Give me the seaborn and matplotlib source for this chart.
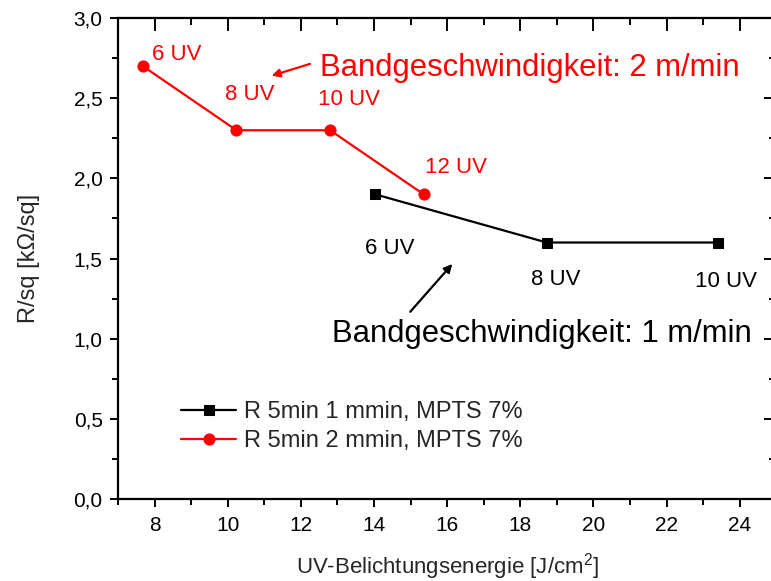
import matplotlib
matplotlib.use("Agg")
import matplotlib.pyplot as plt
from matplotlib.ticker import MultipleLocator, FuncFormatter
import seaborn as sns
import pandas as pd

# Measured sheet resistance vs. UV exposure energy
energy_1mmin = [14.04, 18.72, 23.4]
rsq_1mmin = [1.9, 1.6, 1.6]
uv_1mmin = ["6 UV", "8 UV", "10 UV"]

energy_2mmin = [7.68, 10.24, 12.8, 15.36]
rsq_2mmin = [2.7, 2.3, 2.3, 1.9]
uv_2mmin = ["6 UV", "8 UV", "10 UV", "12 UV"]

label_1mmin = "R 5min 1 mmin, MPTS 7%"
label_2mmin = "R 5min 2 mmin, MPTS 7%"

sns.set_style("white")
plt.rcParams["font.family"] = ["Liberation Sans", "DejaVu Sans"]
plt.rcParams["mathtext.fontset"] = "custom"
plt.rcParams["mathtext.rm"] = "Liberation Sans"

fig = plt.figure(figsize=(7.71, 5.81), dpi=100)
ax_rect = [0.153, 0.141, 0.854, 0.828]
ax = fig.add_axes(ax_rect)

df1 = pd.DataFrame({"x": energy_1mmin, "y": rsq_1mmin})
df2 = pd.DataFrame({"x": energy_2mmin, "y": rsq_2mmin})

sns.lineplot(data=df1, x="x", y="y", ax=ax, color="black", marker="s",
             markersize=7, markeredgecolor="black", linewidth=1.6,
             sort=False, estimator=None, label=label_1mmin)
sns.lineplot(data=df2, x="x", y="y", ax=ax, color="red", marker="o",
             markersize=8, markeredgecolor="red", linewidth=1.6,
             sort=False, estimator=None, label=label_2mmin)

xlim = (7, 25)
ylim = (0, 3.0)
ax.set_xlim(*xlim)
ax.set_ylim(*ylim)

ax.xaxis.set_major_locator(MultipleLocator(2))
ax.xaxis.set_minor_locator(MultipleLocator(1))
ax.yaxis.set_major_locator(MultipleLocator(0.5))
ax.yaxis.set_minor_locator(MultipleLocator(0.25))
ax.yaxis.set_major_formatter(FuncFormatter(lambda v, p: f"{v:.1f}".replace(".", ",")))

ax.tick_params(which="both", direction="out", width=1.4, labelsize=15,
               colors="black", bottom=True, left=True, top=False, right=False)
ax.tick_params(which="major", length=6)
ax.tick_params(which="minor", length=4)
ax.tick_params(axis="x", pad=6)
ax.tick_params(axis="y", pad=5)

for s in ax.spines.values():
    s.set_visible(True)
    s.set_linewidth(1.6)
    s.set_color("black")

ax.set_xlabel("UV-Belichtungsenergie [J/cm$^2$]", fontsize=16, labelpad=12)
ax.set_ylabel("R/sq [kΩ/sq]", fontsize=17, labelpad=24)

# point annotations
red_pos = [(7.93, 2.77), (9.93, 2.52), (12.48, 2.49), (15.40, 2.07)]
for (tx, ty), t in zip(red_pos, uv_2mmin):
    ax.text(tx, ty, t, color="red", fontsize=16, ha="left", va="center")

black_pos = [(13.76, 1.565), (18.29, 1.372), (22.78, 1.355)]
for (tx, ty), t in zip(black_pos, uv_1mmin):
    ax.text(tx, ty, t, color="black", fontsize=16, ha="left", va="center")

ax.text(12.53, 2.69, "Bandgeschwindigkeit: 2 m/min", color="red",
        fontsize=22.3, ha="left", va="center")
ax.text(12.85, 1.03, "Bandgeschwindigkeit: 1 m/min", color="black",
        fontsize=22.3, ha="left", va="center")

ax.annotate("", xy=(11.20, 2.64), xytext=(12.25, 2.714),
            arrowprops=dict(arrowstyle="-|>", color="red", lw=1.6,
                            mutation_scale=12, shrinkA=0, shrinkB=0))
ax.annotate("", xy=(16.14, 1.466), xytext=(14.99, 1.168),
            arrowprops=dict(arrowstyle="-|>", color="black", lw=1.6,
                            mutation_scale=12, shrinkA=0, shrinkB=0))

ax.legend(loc="center left", bbox_to_anchor=(0.082, 0.15), frameon=False,
          fontsize=17, handlelength=2.3, handletextpad=0.35,
          labelspacing=0.3, borderaxespad=0)

# transparent overlay carrying the mirrored inward ticks on top and right
ov = fig.add_axes(ax_rect, frameon=False)
ov.patch.set_visible(False)
ov.set_zorder(ax.get_zorder() + 1)
ov.set_xlim(*xlim)
ov.set_ylim(*ylim)
ov.xaxis.set_major_locator(MultipleLocator(2))
ov.xaxis.set_minor_locator(MultipleLocator(1))
ov.yaxis.set_major_locator(MultipleLocator(0.5))
ov.yaxis.set_minor_locator(MultipleLocator(0.25))
ov.tick_params(axis="x", which="both", direction="in", width=1.4, colors="black",
               top=True, bottom=False, labeltop=False, labelbottom=False)
ov.tick_params(axis="y", which="both", direction="in", width=1.4, colors="black",
               right=True, left=False, labelright=False, labelleft=False)
ov.tick_params(which="major", length=9)
ov.tick_params(which="minor", length=5)

fig.savefig("out.png", dpi=100)
